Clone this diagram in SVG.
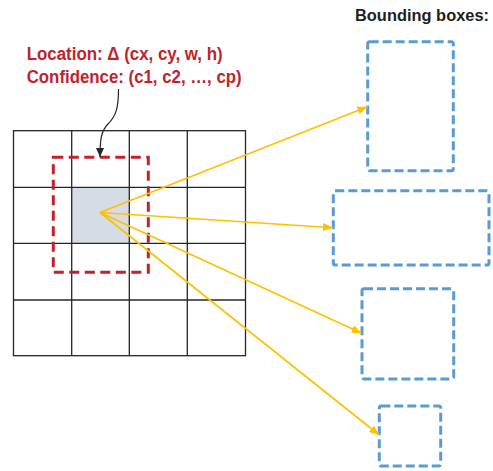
<svg xmlns="http://www.w3.org/2000/svg" width="493" height="471" viewBox="0 0 493 471">
  <defs>
    <style>
      .grid line, .grid rect.frame { stroke: #262626; stroke-width: 1.3; fill: none; }
      .cell-hi { fill: #d6dce5; }
      .anchor { fill: none; stroke: #c0232b; stroke-width: 3; stroke-dasharray: 10 5.5; }
      .bbox { fill: none; stroke: #5b9bd5; stroke-width: 3; stroke-dasharray: 9 4; }
      .ray { stroke: #ffc000; stroke-width: 1.6; fill: none; marker-end: url(#arrow-y); }
      .pointer { stroke: #262626; stroke-width: 1.2; fill: none; marker-end: url(#arrow-k); }
      .label-red { font-family: "Liberation Sans", Arial, sans-serif; font-weight: bold; font-size: 17.5px; fill: #c0232b; }
      .label-dark { font-family: "Liberation Sans", Arial, sans-serif; font-weight: bold; font-size: 17px; fill: #1e1e1e; }
    </style>
    <marker id="arrow-y" markerUnits="userSpaceOnUse" markerWidth="10" markerHeight="8" refX="10" refY="4" orient="auto">
      <path d="M0,0 L10,4 L0,8 Z" fill="#ffc000"/>
    </marker>
    <marker id="arrow-k" markerUnits="userSpaceOnUse" markerWidth="9" markerHeight="8" refX="9" refY="4" orient="auto">
      <path d="M0,0 L9,4 L0,8 Z" fill="#262626"/>
    </marker>
  </defs>

  <!-- feature map grid with the highlighted cell -->
  <g id="grid" class="grid">
    <rect class="cell-hi" x="71.7" y="187.3" width="57.6" height="56"/>
    <rect class="frame" x="13.5" y="130.7" width="232" height="225"/>
    <line x1="71.7" y1="130.7" x2="71.7" y2="355.7"/>
    <line x1="129.3" y1="130.7" x2="129.3" y2="355.7"/>
    <line x1="187.3" y1="130.7" x2="187.3" y2="355.7"/>
    <line x1="13.5" y1="187.3" x2="245.5" y2="187.3"/>
    <line x1="13.5" y1="243.3" x2="245.5" y2="243.3"/>
    <line x1="13.5" y1="300" x2="245.5" y2="300"/>
  </g>

  <!-- anchor region around the cell -->
  <g id="anchor-box">
    <rect class="anchor" x="53.3" y="157.3" width="95" height="115"/>
  </g>

  <!-- prediction label -->
  <g id="prediction-label">
    <text class="label-red" x="26.7" y="60" textLength="196" lengthAdjust="spacingAndGlyphs">Location: Δ (cx, cy, w, h)</text>
    <text class="label-red" x="26.7" y="82.5" textLength="215" lengthAdjust="spacingAndGlyphs">Confidence: (c1, c2, …, cp)</text>
  </g>

  <!-- output boxes -->
  <g id="bbox-title">
    <text class="label-dark" x="355" y="21" textLength="134" lengthAdjust="spacingAndGlyphs">Bounding boxes:</text>
  </g>
  <g id="bbox-1"><rect class="bbox" x="367.7" y="41.7" width="85.6" height="129" rx="2"/></g>
  <g id="bbox-2"><rect class="bbox" x="333.3" y="190.7" width="155.7" height="74.3" rx="2"/></g>
  <g id="bbox-3"><rect class="bbox" x="362" y="288.7" width="91.7" height="90.3" rx="2"/></g>
  <g id="bbox-4"><rect class="bbox" x="379.3" y="406" width="61.4" height="60" rx="2"/></g>

  <!-- connectors -->
  <g id="connectors">
    <path class="pointer" d="M118.5,89 C118.5,108 116,116 108,124 C101,131 100,140 100,157"/>
    <line class="ray" x1="100" y1="212.5" x2="367.5" y2="106.7"/>
    <line class="ray" x1="100" y1="212.5" x2="333" y2="227.7"/>
    <line class="ray" x1="100" y1="212.5" x2="361.7" y2="333.3"/>
    <line class="ray" x1="100" y1="212.5" x2="379.3" y2="435"/>
  </g>
</svg>
